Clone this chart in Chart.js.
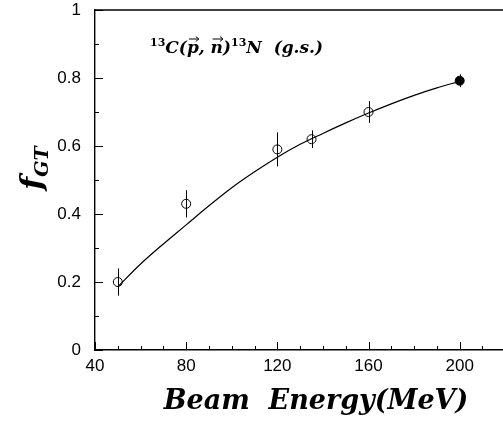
<!DOCTYPE html>
<html>
<head>
<meta charset="utf-8">
<script src="https://cdn.jsdelivr.net/npm/chart.js@4.4.1/dist/chart.umd.min.js"></script>
<style>
  html, body { margin: 0; padding: 0; background: #fff; overflow: hidden; }
  #wrap { width: 503px; height: 424px; }
</style>
</head>
<body>
<div id="wrap"><canvas id="fgtChart" width="503" height="424"></canvas></div>
<script>
// measured points (open circles)
var energies = [50, 80, 120, 135, 160];
var fgt = [0.20, 0.43, 0.59, 0.62, 0.70];
var fgtErr = [0.04, 0.04, 0.05, 0.026, 0.032];

// reference point at 200 MeV (filled)
var refEnergy = [200];
var refFgt = [0.792];
var refErr = [0.019];

// smooth curve through the data
var fitEnergy = [50, 60, 70, 80, 90, 100, 110, 120, 130, 140, 150, 160, 170, 180, 190, 200];
var fitFgt = [0.186, 0.253, 0.312, 0.368, 0.424, 0.477, 0.524, 0.567, 0.605, 0.637, 0.668, 0.697, 0.724, 0.749, 0.771, 0.79];

var xTicks = [40, 80, 120, 160, 200];
var yTicks = [0, 0.2, 0.4, 0.6, 0.8, 1];

var SERIF = '"DejaVu Serif"';

function toXY(xs, ys) {
    return xs.map(function(x, i){ return {x: x, y: ys[i]}; });
}

// little vector arrow over a letter
function arrowOver(ctx, x, w, y) {
    ctx.save();
    ctx.lineWidth = 1;
    ctx.beginPath();
    ctx.moveTo(x + 2, y);
    ctx.lineTo(x + w, y);
    ctx.moveTo(x + w - 3, y - 2.5);
    ctx.lineTo(x + w, y);
    ctx.lineTo(x + w - 3, y + 2.5);
    ctx.stroke();
    ctx.restore();
}

// error bars, inward ticks, frame and the text labels
var extras = {
    id: 'extras',
    afterDatasetsDraw: function(chart) {
        var ctx = chart.ctx;
        var xs = chart.scales.x, ys = chart.scales.y;
        var area = chart.chartArea;
        ctx.save();
        ctx.strokeStyle = '#000';
        ctx.lineWidth = 1;

        function bars(ex, ey, ee) {
            ex.forEach(function(e, i){
                var px = Math.round(xs.getPixelForValue(e)) + 0.5;
                ctx.beginPath();
                ctx.moveTo(px, ys.getPixelForValue(ey[i] - ee[i]));
                ctx.lineTo(px, ys.getPixelForValue(ey[i] + ee[i]));
                ctx.stroke();
            });
        }
        bars(energies, fgt, fgtErr);
        bars(refEnergy, refFgt, refErr);

        // top frame line
        ctx.lineWidth = 1.4;
        ctx.beginPath();
        ctx.moveTo(area.left, area.top);
        ctx.lineTo(area.right, area.top);
        ctx.stroke();

        // inward tick marks
        ctx.lineWidth = 1;
        for (var v = 40; v <= 219; v += 10) {
            var px = Math.round(xs.getPixelForValue(v)) + 0.5;
            var len = (v % 40 === 0) ? 8 : 4;
            ctx.beginPath();
            ctx.moveTo(px, area.bottom);
            ctx.lineTo(px, area.bottom - len);
            ctx.stroke();
        }
        for (var k = 0; k <= 10; k++) {
            var py = Math.round(ys.getPixelForValue(k / 10)) + 0.5;
            var l2 = (k % 2 === 0) ? 8 : 4;
            ctx.beginPath();
            ctx.moveTo(area.left, py);
            ctx.lineTo(area.left + l2, py);
            ctx.stroke();
        }

        ctx.fillStyle = '#000';
        ctx.textBaseline = 'alphabetic';
        ctx.textAlign = 'left';

        // reaction label
        var big = 'italic bold 17px ' + SERIF;
        var sup = 'bold 11px ' + SERIF;
        var tx = area.left + 55, ty = area.top + 43;
        var parts = [
            [sup, '13', -7], [big, 'C(', 0], [big, 'p', 0, true], [big, ', ', 0],
            [big, 'n', 0, true], [big, ')', 0], [sup, '13', -7], [big, 'N  (g.s.)', 0]
        ];
        parts.forEach(function(p){
            ctx.font = p[0];
            var w = ctx.measureText(p[1]).width;
            ctx.fillText(p[1], tx, ty + p[2]);
            if (p[3]) arrowOver(ctx, tx, w, ty - 14);
            tx += w;
        });

        // x axis title
        ctx.font = 'italic bold 27px ' + SERIF;
        ctx.textAlign = 'center';
        ctx.fillText('Beam  Energy(MeV)', 316, 409);

        // y axis title, rotated
        ctx.translate(42, 168);
        ctx.rotate(-Math.PI / 2);
        ctx.textAlign = 'left';
        ctx.font = 'italic bold 30px ' + SERIF;
        var fw = ctx.measureText('f').width;
        ctx.font = 'italic bold 19px ' + SERIF;
        var gw = ctx.measureText('GT').width;
        var start = -(fw + gw) / 2;
        ctx.font = 'italic bold 30px ' + SERIF;
        ctx.fillText('f', start, 0);
        ctx.font = 'italic bold 19px ' + SERIF;
        ctx.fillText('GT', start + fw, 6);

        ctx.restore();
    }
};

new Chart(document.getElementById('fgtChart'), {
    type: 'scatter',
    data: {
        datasets: [
            {
                type: 'line',
                data: toXY(fitEnergy, fitFgt),
                borderColor: '#000',
                borderWidth: 1.2,
                pointRadius: 0,
                cubicInterpolationMode: 'monotone',
                fill: false,
                order: 3
            },
            {
                data: toXY(energies, fgt),
                pointStyle: 'circle',
                pointRadius: 4.5,
                borderColor: '#000',
                backgroundColor: 'rgba(0,0,0,0)',
                borderWidth: 1,
                order: 2
            },
            {
                data: toXY(refEnergy, refFgt),
                pointStyle: 'circle',
                pointRadius: 4.5,
                borderColor: '#000',
                backgroundColor: '#000',
                borderWidth: 1,
                order: 1
            }
        ]
    },
    options: {
        responsive: false,
        animation: false,
        // frame runs right up to the canvas edge, no room kept for point radius
        layout: { autoPadding: false, padding: { top: 10, right: 0, left: 0, bottom: 0 } },
        plugins: {
            legend: { display: false },
            tooltip: { enabled: false }
        },
        scales: {
            x: {
                type: 'linear',
                min: 40,
                max: 219,
                afterBuildTicks: function(scale) {
                    scale.ticks = xTicks.map(function(v){ return {value: v}; });
                },
                afterFit: function(scale) {
                    scale.height = 74;
                    scale.paddingLeft = 0;
                    scale.paddingRight = 0;
                },
                grid: { display: false, drawTicks: false },
                border: { display: true, color: '#000', width: 1.4 },
                ticks: {
                    color: '#000',
                    padding: 6,
                    maxRotation: 0,
                    font: { family: 'Liberation Sans', size: 17 }
                }
            },
            y: {
                type: 'linear',
                min: 0,
                max: 1,
                afterBuildTicks: function(scale) {
                    scale.ticks = yTicks.map(function(v){ return {value: v}; });
                },
                afterFit: function(scale) {
                    scale.width = 95;
                    scale.paddingTop = 0;
                    scale.paddingBottom = 0;
                },
                grid: { display: false, drawTicks: false },
                border: { display: true, color: '#000', width: 1.4 },
                ticks: {
                    color: '#000',
                    padding: 14,
                    font: { family: 'Liberation Sans', size: 17 },
                    callback: function(v) { return String(v); }
                }
            }
        }
    },
    plugins: [extras]
});
</script>
</body>
</html>
